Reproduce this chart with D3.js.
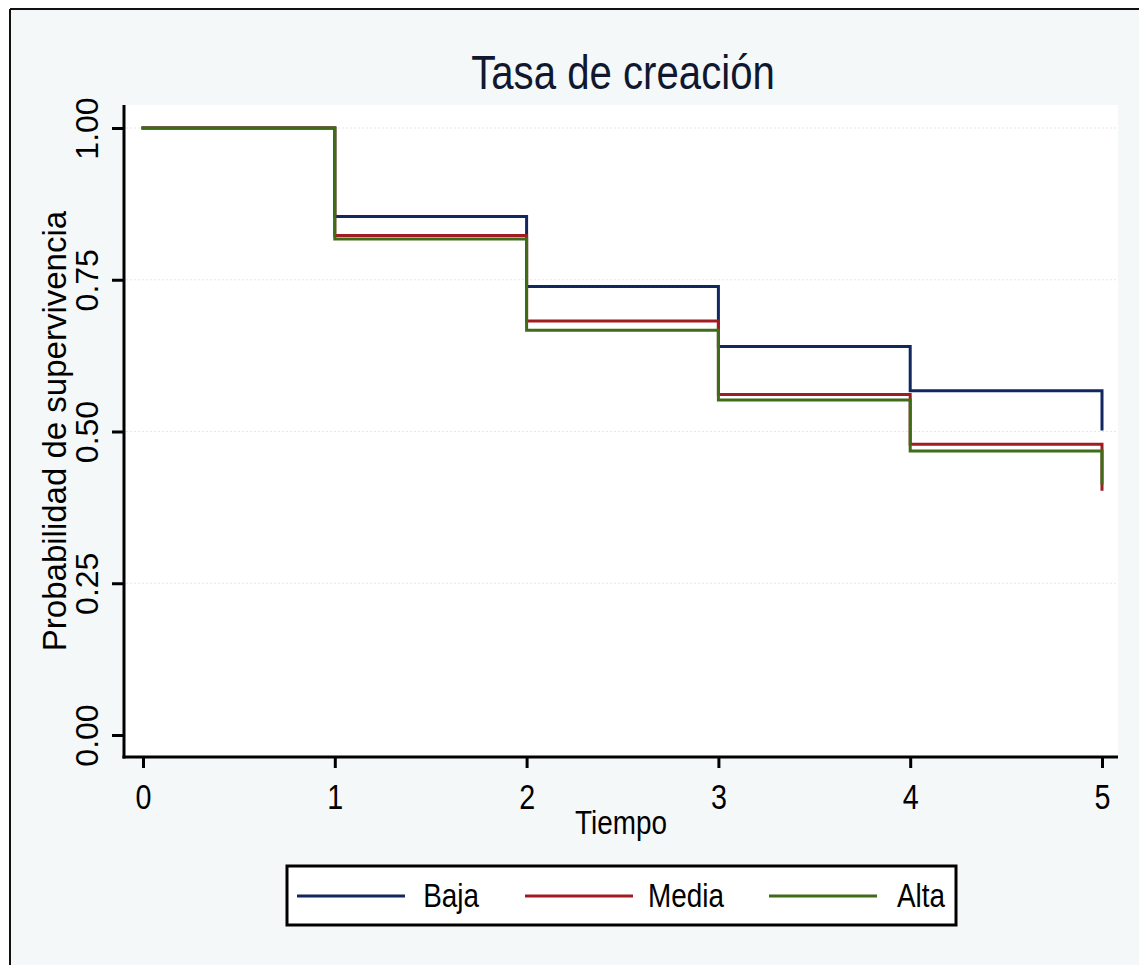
<!DOCTYPE html>
<html>
<head>
<meta charset="utf-8">
<script src="https://cdn.jsdelivr.net/npm/d3@7"></script>
<style>
  html, body { margin: 0; padding: 0; background: #ffffff; }
  svg { display: block; }
</style>
</head>
<body>
<svg id="chart" width="1139" height="965"></svg>
<script>
// ---- data ----
const times = [0, 1, 2, 3, 4, 5];
const baja  = [1.00, 0.854, 0.739, 0.640, 0.567, 0.504];
const media = [1.00, 0.823, 0.682, 0.561, 0.479, 0.405];
const alta  = [1.00, 0.817, 0.667, 0.552, 0.468, 0.415];
const seriesNames = ["Baja", "Media", "Alta"];
const seriesColors = ["#10285f", "#a01c22", "#3e6c18"];
const yTicks = [0, 0.25, 0.50, 0.75, 1.00];
const xTicks = [0, 1, 2, 3, 4, 5];
const titleText = "Tasa de creación";
const xTitle = "Tiempo";
const yTitle = "Probabilidad de supervivencia";

const fontFam = "'Liberation Sans', Arial, sans-serif";
const SX = 0.82; // horizontal squeeze of the reference's text

const svg = d3.select("#chart");
const W = 1139, H = 965;

function squeezedText(x0, y0, txt, size, anchor, fill) {
  return svg.append("g").attr("transform", `translate(${x0},${y0}) scale(${SX},1)`)
    .append("text").attr("x", 0).attr("y", 0).attr("text-anchor", anchor)
    .attr("font-family", fontFam).attr("font-size", size).attr("fill", fill || "#000").text(txt);
}

// outer background
svg.append("rect").attr("x", 0).attr("y", 0).attr("width", W).attr("height", H).attr("fill", "#ffffff");
svg.append("rect").attr("x", 10).attr("y", 9).attr("width", W - 10).attr("height", H - 9)
  .attr("fill", "#f4f8f9");
svg.append("line").attr("x1", 10).attr("x2", 10).attr("y1", 9).attr("y2", H)
  .attr("stroke", "#111").attr("stroke-width", 2);
svg.append("line").attr("x1", 10).attr("x2", W).attr("y1", 9).attr("y2", 9)
  .attr("stroke", "#111").attr("stroke-width", 2);

// plot region
const plot = { left: 124, right: 1118, top: 105, bottom: 757 };
svg.append("rect").attr("x", plot.left).attr("y", plot.top)
  .attr("width", plot.right - plot.left).attr("height", plot.bottom - plot.top)
  .attr("fill", "#ffffff");

const x = d3.scaleLinear().domain([0, 5]).range([143, 1102]);
const y = d3.scaleLinear().domain([0, 1]).range([735, 128]);

// gridlines
svg.append("g").selectAll("line").data(yTicks.filter(d => d > 0)).join("line")
  .attr("x1", plot.left + 2).attr("x2", plot.right)
  .attr("y1", d => y(d)).attr("y2", d => y(d))
  .attr("stroke", "#efe3e8").attr("stroke-width", 1).attr("stroke-dasharray", "2,2");

// series
const lineGen = d3.line().x((d, i) => x(times[i])).y(d => y(d)).curve(d3.curveStepAfter);
[baja, media, alta].forEach((vals, i) => {
  svg.append("path").datum(vals).attr("d", lineGen)
    .attr("fill", "none").attr("stroke", seriesColors[i]).attr("stroke-width", 3)
    .attr("stroke-linejoin", "miter").attr("stroke-linecap", "square");
});

// y axis
const yAxis = d3.axisLeft(y).tickValues(yTicks).tickFormat(d3.format(".2f")).tickSize(12).tickPadding(14);
const gy = svg.append("g").attr("transform", `translate(${plot.left},0)`).call(yAxis);
gy.select(".domain").remove();
gy.selectAll(".tick line").attr("stroke", "#000").attr("stroke-width", 3);
gy.selectAll(".tick text")
  .attr("font-family", fontFam).attr("font-size", 32).attr("fill", "#000")
  .attr("x", null).attr("y", null).attr("dy", null)
  .attr("transform", "translate(-26,0) rotate(-90)").attr("text-anchor", "middle");
svg.append("line").attr("x1", plot.left).attr("x2", plot.left)
  .attr("y1", plot.top).attr("y2", plot.bottom + 1.5)
  .attr("stroke", "#000").attr("stroke-width", 3);

// x axis
const xAxis = d3.axisBottom(x).tickValues(xTicks).tickFormat(d3.format("d")).tickSize(11).tickPadding(0);
const gx = svg.append("g").attr("transform", `translate(0,${plot.bottom})`).call(xAxis);
gx.select(".domain").remove();
gx.selectAll(".tick line").attr("stroke", "#000").attr("stroke-width", 3);
gx.selectAll(".tick text")
  .attr("font-family", fontFam).attr("font-size", 35).attr("fill", "#000")
  .attr("y", 52).attr("dy", null).attr("transform", `scale(${SX},1)`);
svg.append("line").attr("x1", plot.left - 1.5).attr("x2", plot.right)
  .attr("y1", plot.bottom).attr("y2", plot.bottom)
  .attr("stroke", "#000").attr("stroke-width", 3);

// titles
squeezedText(623, 89, titleText, 49, "middle", "#101830");
squeezedText(621, 834, xTitle, 34, "middle", "#000");
svg.append("text").attr("transform", `translate(66,${(plot.top + plot.bottom) / 2}) rotate(-90)`)
  .attr("text-anchor", "middle")
  .attr("font-family", fontFam).attr("font-size", 33).attr("fill", "#000").text(yTitle);

// legend
svg.append("rect").attr("x", 287).attr("y", 866).attr("width", 669).attr("height", 59)
  .attr("fill", "#ffffff").attr("stroke", "#000").attr("stroke-width", 3);
const legendLineX = [297, 525, 769];
const legendTextEnd = [479, 724, 945];
seriesNames.forEach((name, i) => {
  svg.append("line").attr("x1", legendLineX[i]).attr("x2", legendLineX[i] + 108)
    .attr("y1", 896).attr("y2", 896)
    .attr("stroke", seriesColors[i]).attr("stroke-width", 3);
  squeezedText(legendTextEnd[i], 907, name, 34, "end", "#000");
});
</script>
</body>
</html>
